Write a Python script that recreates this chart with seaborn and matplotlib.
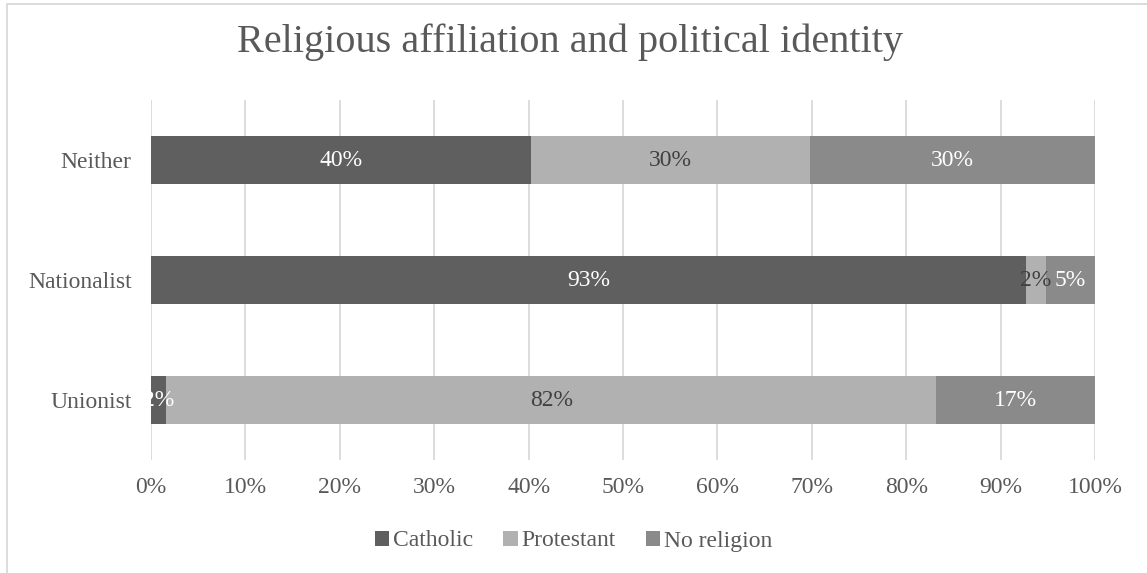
import numpy as np
import pandas as pd
import matplotlib
matplotlib.use("Agg")
import matplotlib.pyplot as plt
from matplotlib.patches import Rectangle, Patch
from matplotlib.ticker import PercentFormatter
import seaborn as sns

categories = ["Neither", "Nationalist", "Unionist"]
series = ["Catholic", "Protestant", "No religion"]
catholic = [40.3, 92.7, 1.6]
protestant = [29.5, 2.1, 81.6]
no_religion = [30.2, 5.2, 16.8]
x_ticks = [0, 10, 20, 30, 40, 50, 60, 70, 80, 90, 100]

colors = ["#5f5f5f", "#b1b1b1", "#8a8a8a"]
label_colors = ["white", "#404040", "white"]

sns.set_theme(style="white")
plt.rcParams["font.family"] = ["Liberation Serif", "DejaVu Serif"]

df = pd.DataFrame({"category": categories, "Catholic": catholic,
                   "Protestant": protestant, "No religion": no_religion})
vals = df[series].to_numpy()
cum = np.cumsum(vals, axis=1)

fig = plt.figure(figsize=(11.47, 5.73), dpi=100)
ax = fig.add_axes([151/1147, 1 - 460/573, (1095-151)/1147, 360/573])

for i in reversed(range(len(series))):
    sns.barplot(x=cum[:, i], y=df["category"], orient="h", color=colors[i],
                width=0.4, ax=ax, saturation=1, order=categories, linewidth=0)

for i in range(len(series)):
    left = cum[:, i] - vals[:, i]
    for j, cat in enumerate(categories):
        ax.text(left[j] + vals[j, i] / 2, j, f"{round(vals[j, i]):.0f}%",
                ha="center", va="center", color=label_colors[i], fontsize=17)

ax.set_xlim(0, 100)
ax.set_ylim(2.5, -0.5)
ax.set_xticks(x_ticks)
ax.xaxis.set_major_formatter(PercentFormatter(decimals=0))
ax.grid(axis="x", color="#d9d9d9", linewidth=1.3)
ax.set_axisbelow(True)
for s in ax.spines.values():
    s.set_visible(False)
ax.set_xlabel("")
ax.set_ylabel("")
ax.tick_params(axis="both", length=0, labelsize=17, colors="#595959")
ax.tick_params(axis="x", pad=12)
ax.tick_params(axis="y", pad=14)

fig.text(0.497, 1 - 42/573, "Religious affiliation and political identity",
         ha="center", va="center", fontsize=29, color="#595959")

handles = [Patch(facecolor=c, edgecolor="none") for c in colors]
fig.legend(handles, series, loc="center", bbox_to_anchor=(0.5, 1 - 541/573),
           ncol=3, frameon=False, fontsize=17, handlelength=0.6, handleheight=0.6,
           handletextpad=0.15, columnspacing=1.3, labelcolor="#595959")

fig.patches.append(Rectangle((7/1147, -0.1), 1.2, 1 - 4.5/573 + 0.1,
                             transform=fig.transFigure, fill=False,
                             edgecolor="#d9d9d9", linewidth=1.3))

fig.savefig("out.png", dpi=100)
